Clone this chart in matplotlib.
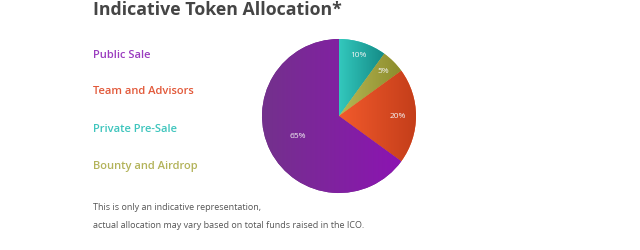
import numpy as np
import matplotlib
matplotlib.use("Agg")
import matplotlib.pyplot as plt
from matplotlib.colors import LinearSegmentedColormap

categories = ["Private Pre-Sale", "Bounty and Airdrop", "Team and Advisors", "Public Sale"]
values = [10, 5, 20, 65]
pct_labels = ["10%", "5%", "20%", "65%"]
legend_order = ["Public Sale", "Team and Advisors", "Private Pre-Sale", "Bounty and Airdrop"]
legend_colors = {"Public Sale": "#9a3cbf", "Team and Advisors": "#e2593a",
                 "Private Pre-Sale": "#3ec5bd", "Bounty and Airdrop": "#b3b35a"}
grad = {"Private Pre-Sale": ("#33c8bd", "#148a86"),
        "Bounty and Airdrop": ("#b8b855", "#8c8c2c"),
        "Team and Advisors": ("#f25a2c", "#c43e1a"),
        "Public Sale": ("#73318c", "#8c14b2")}

W, H = 640, 250
fig = plt.figure(figsize=(6.4, 2.5), dpi=100)
fig.patch.set_facecolor("white")
fam = ["Open Sans", "DejaVu Sans"]

fig.text(93 / W, 1 - 10 / H, "Indicative Token Allocation*", fontsize=12.8, fontweight="bold",
         color="#454545", va="center", ha="left", family=fam)
ys = [55, 92, 129, 167]
for lab, y in zip(legend_order, ys):
    fig.text(93 / W, 1 - y / H, lab, fontsize=8, fontweight="semibold",
             color=legend_colors[lab], va="center", ha="left", family=fam)
fig.text(93 / W, 1 - 208 / H, "This is only an indicative representation,", fontsize=6.5,
         color="#555555", va="center", ha="left", family=fam)
fig.text(93 / W, 1 - 226 / H, "actual allocation may vary based on total funds raised in the ICO.",
         fontsize=6.5, color="#555555", va="center", ha="left", family=fam)

cx, cy, r = 339, 116, 77
ax = fig.add_axes([(cx - r) / W, 1 - (cy + r) / H, 2 * r / W, 2 * r / H])
wedges, _ = ax.pie(values, startangle=90, counterclock=False, radius=1,
                   colors=[grad[c][0] for c in categories],
                   wedgeprops=dict(linewidth=0))
ax.set_xlim(-1, 1); ax.set_ylim(-1, 1); ax.set_aspect("equal"); ax.axis("off")
xg = np.linspace(0, 1, 256).reshape(1, -1)
for w, c in zip(wedges, categories):
    th = np.radians(np.linspace(w.theta1, w.theta2, 200))
    xs = np.concatenate([[0], np.cos(th)])
    x0, x1 = xs.min(), xs.max()
    cmap = LinearSegmentedColormap.from_list(c, list(grad[c]))
    im = ax.imshow(xg, extent=(x0, x1, -1, 1), cmap=cmap, aspect="auto", zorder=w.get_zorder() + 0.1)
    im.set_clip_path(w)
ax.set_xlim(-1, 1); ax.set_ylim(-1, 1)

# percent labels
label_r = [0.82, 0.81, 0.76, 0.6]
ang = 90.0
for v, t, rr in zip(values, pct_labels, label_r):
    mid = ang - v * 3.6 / 2
    ax.text(rr * np.cos(np.radians(mid)), rr * np.sin(np.radians(mid)), t, ha="center", va="center",
            fontsize=6, color="#f4f4f4", family=fam, zorder=10)
    ang -= v * 3.6

fig.savefig("out.png", dpi=100, facecolor="white")
